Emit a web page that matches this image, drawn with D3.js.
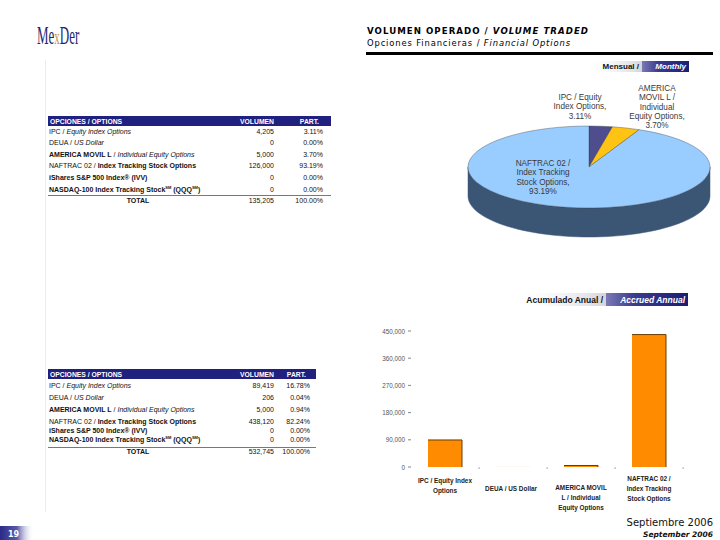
<!DOCTYPE html>
<html><head><meta charset="utf-8">
<script src="https://cdn.jsdelivr.net/npm/d3@7"></script>
<style>html,body{margin:0;padding:0;background:#fff;}svg{display:block;}</style>
</head><body>
<svg id="c" width="720" height="540"></svg>
<script>
// ---------- DATA ----------
const tableHeader = ["OPCIONES / OPTIONS", "VOLUMEN", "PART."];
const instrumentNames = [
  [["IPC / ","n"],["Equity Index Options","i"]],
  [["DEUA / ","n"],["US Dollar","i"]],
  [["AMERICA MOVIL L","b"],[" / ","n"],["Individual Equity Options","i"]],
  [["NAFTRAC 02 / ","n"],["Index Tracking Stock Options","b"]],
  [["iShares S&P 500 Index® (IVV)","b"]],
  [["NASDAQ-100 Index Tracking Stock","b"],["SM","sup"],[" (QQQ","b"],["SM","sup"],[")","b"]]
];
const monthlyVolume = [4205, 0, 5000, 126000, 0, 0];
const monthlyShare = ["3.11%", "0.00%", "3.70%", "93.19%", "0.00%", "0.00%"];
const monthlyTotal = ["TOTAL", "135,205", "100.00%"];
const annualVolume = [89419, 206, 5000, 438120, 0, 0];
const annualShare = ["16.78%", "0.04%", "0.94%", "82.24%", "0.00%", "0.00%"];
const annualTotal = ["TOTAL", "532,745", "100.00%"];

const pieKeys = ["IPC", "AMERICA", "NAFTRAC"];
const pieValues = [4205, 5000, 126000];
const pieLabels = [
  ["IPC / Equity", "Index Options,", "3.11%"],
  ["AMERICA", "MOVIL L /", "Individual", "Equity Options,", "3.70%"],
  ["NAFTRAC 02 /", "Index Tracking", "Stock Options,", "93.19%"]
];
const pieColors = ["#4e4e8e", "#ffc413", "#99ccff"];
const pieSideColors = ["#2e2e5e", "#b08a10", "#3b5575"];

const barCategories = ["IPC", "DEUA", "AMERICA", "NAFTRAC"];
const barLabels = [
  ["IPC / Equity Index", "Options"],
  ["DEUA / US Dollar"],
  ["AMERICA MOVIL", "L / Individual", "Equity Options"],
  ["NAFTRAC 02 /", "Index Tracking", "Stock Options"]
];
const barValues = [89419, 206, 5000, 438120];
const yTicks = [0, 90000, 180000, 270000, 360000, 450000];

// ---------- DRAW ----------
const svg = d3.select("#c");
const defs = svg.append("defs");
const fmt = d3.format(",");

function grad(id, stops) {
  const g = defs.append("linearGradient").attr("id", id).attr("x1", "0").attr("x2", "1").attr("y1", "0").attr("y2", "0");
  stops.forEach(s => g.append("stop").attr("offset", s[0]).attr("stop-color", s[1]).attr("stop-opacity", s[2] == null ? 1 : s[2]));
}
grad("fadeGray", [[0, "#ffffff", 0], [1, "#d4d4dc", 1]]);
grad("navy", [[0, "#7a7ab4"], [0.35, "#3a3a8e"], [1, "#1c1c74"]]);
grad("pageNum", [[0, "#2a2a88"], [0.5, "#5a5aa8"], [1, "#ffffff", 0]]);

// Logo
const logo = svg.append("text").attr("x", 37).attr("y", 44)
  .attr("font-family", "Liberation Serif, serif").attr("font-size", 25)
  .attr("transform", "translate(37,0) scale(0.52,1) translate(-37,0)")
  .attr("fill", "#1e2a6e");
logo.append("tspan").text("Me");
logo.append("tspan").attr("fill", "#c8963a").attr("font-size", 21).text("x");
logo.append("tspan").text("Der");

// Header
svg.append("text").attr("x", 367).attr("y", 34)
  .attr("font-family", "DejaVu Sans, Verdana, sans-serif").attr("font-size", 8.6).attr("font-weight", "bold")
  .attr("textLength", 221).attr("lengthAdjust", "spacing")
  .html('VOLUMEN OPERADO / <tspan font-style="italic">VOLUME TRADED</tspan>');
svg.append("text").attr("x", 367).attr("y", 46)
  .attr("font-family", "DejaVu Sans, Verdana, sans-serif").attr("font-size", 8.4)
  .attr("textLength", 203).attr("lengthAdjust", "spacing")
  .html('Opciones Financieras / <tspan font-style="italic">Financial Options</tspan>');
svg.append("rect").attr("x", 366).attr("y", 52).attr("width", 347).attr("height", 3).attr("fill", "#000");

// faint panel edge
svg.append("line").attr("x1", 45.5).attr("x2", 45.5).attr("y1", 60).attr("y2", 512).attr("stroke", "#ececec");

// Banners
function banner(x0, x1, xBox, y, h, t1, t2, size) {
  svg.append("rect").attr("x", x0).attr("y", y).attr("width", xBox - x0).attr("height", h).attr("fill", "url(#fadeGray)");
  svg.append("rect").attr("x", xBox).attr("y", y).attr("width", x1 - xBox).attr("height", h).attr("fill", "url(#navy)");
  svg.append("text").attr("x", xBox - 3).attr("y", y + h - 3).attr("text-anchor", "end")
    .attr("font-family", "Liberation Sans, Arial, sans-serif").attr("font-size", size).attr("font-weight", "bold").attr("fill", "#111").text(t1);
  svg.append("text").attr("x", x1 - 3).attr("y", y + h - 3).attr("text-anchor", "end")
    .attr("font-family", "Liberation Sans, Arial, sans-serif").attr("font-size", size).attr("font-weight", "bold").attr("font-style", "italic").attr("fill", "#fff").text(t2);
}
banner(585, 689, 642, 61, 11, "Mensual /", "Monthly", 8);
banner(515, 688, 606, 293, 13, "Acumulado Anual /", "Accrued Annual", 8.5);

// Tables
function table(top, x0, x1, volRight, pctRight, rowYs, totalY, lineY, volumes, shares, total) {
  const f = "Liberation Sans, Arial, sans-serif";
  svg.append("rect").attr("x", x0).attr("y", top).attr("width", x1 - x0).attr("height", 10).attr("fill", "#20207e");
  svg.append("text").attr("x", x0 + 2).attr("y", top + 8).attr("font-family", f).attr("font-size", 6.8).attr("font-weight", "bold").attr("fill", "#fff").text(tableHeader[0]);
  svg.append("text").attr("x", volRight).attr("y", top + 8).attr("text-anchor", "end").attr("font-family", f).attr("font-size", 6.8).attr("font-weight", "bold").attr("fill", "#fff").text(tableHeader[1]);
  svg.append("text").attr("x", pctRight - 4).attr("y", top + 8).attr("text-anchor", "end").attr("font-family", f).attr("font-size", 6.8).attr("font-weight", "bold").attr("fill", "#fff").text(tableHeader[2]);
  instrumentNames.forEach((parts, i) => {
    const t = svg.append("text").attr("x", x0 + 1).attr("y", rowYs[i]).attr("font-family", f).attr("font-size", 7).attr("fill", "#111");
    parts.forEach((p, k) => {
      const s = t.append("tspan").text(p[0]);
      if (p[1] === "i") s.attr("font-style", "italic");
      if (p[1] === "b") s.attr("font-weight", "bold");
      if (p[1] === "sup") s.attr("font-size", 4).attr("dy", -3).attr("font-weight", "bold");
      else if (k > 0 && parts[k - 1][1] === "sup") s.attr("dy", 3);
    });
    svg.append("text").attr("x", volRight).attr("y", rowYs[i]).attr("text-anchor", "end").attr("font-family", f).attr("font-size", 7).attr("fill", "#111").text(fmt(volumes[i]));
    svg.append("text").attr("x", pctRight).attr("y", rowYs[i]).attr("text-anchor", "end").attr("font-family", f).attr("font-size", 7).attr("fill", "#111").text(shares[i]);
  });
  svg.append("line").attr("x1", x0).attr("x2", x1).attr("y1", lineY).attr("y2", lineY).attr("stroke", "#555").attr("stroke-width", 0.8);
  svg.append("text").attr("x", 138).attr("y", totalY).attr("text-anchor", "middle").attr("font-family", f).attr("font-size", 7).attr("font-weight", "bold").attr("fill", "#111").text(total[0]);
  svg.append("text").attr("x", volRight).attr("y", totalY).attr("text-anchor", "end").attr("font-family", f).attr("font-size", 7).attr("fill", "#111").text(total[1]);
  svg.append("text").attr("x", pctRight).attr("y", totalY).attr("text-anchor", "end").attr("font-family", f).attr("font-size", 7).attr("fill", "#111").text(total[2]);
}
table(116, 48, 331, 274, 323, [134, 145, 157, 168, 180, 192], 203, 195.5, monthlyVolume, monthlyShare, monthlyTotal);
table(369, 48, 316, 274, 310, [388, 400, 412, 424, 433, 442], 454, 447.5, annualVolume, annualShare, annualTotal);

// 3D pie
const cx = 589, cy = 167, rx = 121, ry = 41, depth = 29;
const pie = d3.pie().sort(null).value(d => d)(pieValues);
const pt = (a, dy) => [cx + Math.sin(a) * rx, cy - Math.cos(a) * ry + dy];
const pieG = svg.append("g");
pie.forEach((s, i) => {
  const s0 = Math.max(s.startAngle, Math.PI / 2), s1 = Math.min(s.endAngle, 3 * Math.PI / 2);
  if (s0 >= s1) return;
  const n = 60, pts = [];
  for (let k = 0; k <= n; k++) pts.push(pt(s0 + (s1 - s0) * k / n, 0));
  for (let k = n; k >= 0; k--) pts.push(pt(s0 + (s1 - s0) * k / n, depth));
  pieG.append("path").attr("d", d3.line()(pts) + "Z").attr("fill", pieSideColors[i]).attr("stroke", pieSideColors[i]).attr("stroke-width", 0.5);
});
const arc = d3.arc().innerRadius(0).outerRadius(rx);
pieG.append("g").attr("transform", `translate(${cx},${cy}) scale(1,${ry / rx})`)
  .selectAll("path").data(pie).join("path")
  .attr("d", arc).attr("fill", (d, i) => pieColors[i])
  .attr("stroke", "#333").attr("stroke-width", 0.6).attr("vector-effect", "non-scaling-stroke")
  .attr("stroke-opacity", 0.6);
const labelPos = [[580, 100], [657, 91], [543, 166]];
pieLabels.forEach((lines, i) => {
  const t = svg.append("text").attr("font-family", "Liberation Sans, Arial, sans-serif").attr("font-size", 8.2).attr("fill", "#3a3a3a").attr("text-anchor", "middle");
  lines.forEach((l, k) => t.append("tspan").attr("x", labelPos[i][0]).attr("y", labelPos[i][1] + k * 9.3).text(l));
});

// Bar chart
const x = d3.scaleBand().domain(barCategories).range([411, 683]).paddingInner(0.5).paddingOuter(0.25);
const y = d3.scaleLinear().domain([0, 450000]).range([467, 331]);
const bc = svg.append("g");
yTicks.forEach(v => {
  bc.append("text").attr("x", 405).attr("y", y(v) + 2.5).attr("text-anchor", "end")
    .attr("font-family", "Liberation Sans, Arial, sans-serif").attr("font-size", 6.3).attr("fill", "#555").text(fmt(v));
  bc.append("line").attr("x1", 408).attr("x2", 411).attr("y1", y(v)).attr("y2", y(v)).attr("stroke", "#666").attr("stroke-width", 0.8);
});
const step = x.step();
barCategories.forEach((c, i) => {
  const tx = 411 + step * (i + 1);
  bc.append("rect").attr("x", tx - 0.5).attr("y", 467.5).attr("width", 1.2).attr("height", 1.2).attr("fill", "#888");
});
bc.selectAll("rect.bar").data(barValues).join("rect").attr("class", "bar")
  .attr("x", (d, i) => x(barCategories[i])).attr("y", d => y(d))
  .attr("width", x.bandwidth()).attr("height", d => 467 - y(d)).attr("fill", "#ff8c00");
bc.selectAll("path.edge").data(barValues).join("path").attr("class", "edge")
  .attr("d", (d, i) => {
    if (467 - y(d) < 1) return null;
    const x0 = x(barCategories[i]), x1 = x0 + x.bandwidth();
    return `M${x0},${y(d)}L${x1},${y(d)}L${x1},467`;
  })
  .attr("fill", "none").attr("stroke", "#6a3a00").attr("stroke-width", 1);
barLabels.forEach((lines, i) => {
  const cxl = x(barCategories[i]) + x.bandwidth() / 2;
  const y0 = [483, 491, 490, 481][i];
  const t = bc.append("text").attr("font-family", "Liberation Sans, Arial, sans-serif").attr("font-size", 6.4).attr("font-weight", "bold").attr("fill", "#222").attr("text-anchor", "middle");
  lines.forEach((l, k) => t.append("tspan").attr("x", cxl + (i === 1 ? -2 : 0)).attr("y", y0 + k * 10).text(l));
});

// Footer
svg.append("rect").attr("x", 0).attr("y", 526).attr("width", 34).attr("height", 14).attr("fill", "url(#pageNum)");
svg.append("text").attr("x", 8).attr("y", 537).attr("font-family", "DejaVu Sans, Verdana, sans-serif").attr("font-size", 8).attr("font-weight", "bold").attr("fill", "#fff").text("19");
svg.append("text").attr("x", 713).attr("y", 526).attr("text-anchor", "end").attr("font-family", "DejaVu Sans, Verdana, sans-serif").attr("font-size", 10).attr("fill", "#111").text("Septiembre 2006");
svg.append("text").attr("x", 713).attr("y", 537).attr("text-anchor", "end").attr("font-family", "DejaVu Sans, Verdana, sans-serif").attr("font-size", 7.5).attr("font-style", "italic").attr("font-weight", "bold").attr("fill", "#111").text("September 2006");
</script>
</body></html>
